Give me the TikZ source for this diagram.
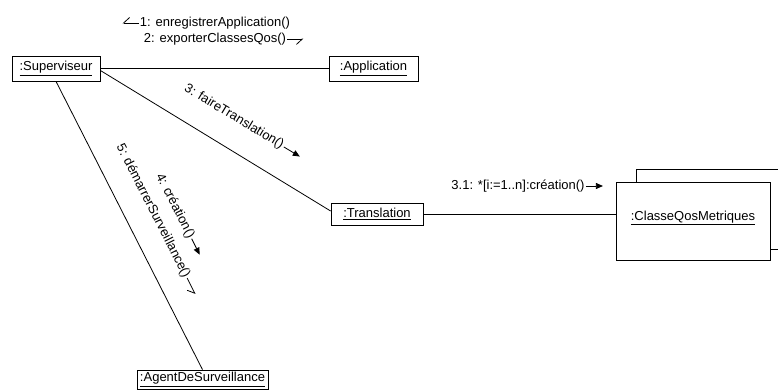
\documentclass[tikz,border=0pt]{standalone}
\usepackage{fontspec}
\setmainfont{Liberation Sans}
\usetikzlibrary{positioning,arrows.meta}

\begin{document}
\begin{tikzpicture}[
    x=1pt, y=-1pt,
    line width=0.8pt,
    every node/.style={font=\fontsize{13}{15}\selectfont, inner sep=1pt},
    obj/.style={draw, fill=white, minimum height=25pt, inner sep=0pt},
    sync/.style={-{Triangle[length=7pt,width=6pt]}},
    async/.style={-{Straight Barb[harpoon,swap,length=6pt,width=11pt]}}
]
\useasboundingbox (0,0) rectangle (778,390);
\clip (0,0) rectangle (778,390);

\node[obj, minimum width=88pt] (sup) at (56,68.5) {\underline{:Superviseur}};
\node[obj, minimum width=89pt] (app) at (373.5,68.5) {\underline{:Application}};
\node[obj, minimum width=92pt, minimum height=22pt] (trans) at (377,214) {\underline{:Translation}};
\node[obj, minimum width=131pt, minimum height=19pt] (agent) at (202.5,379.5) {\underline{:AgentDeSurveillance}};
\node[obj, minimum width=154pt, text height=38pt, text depth=40pt] (cqm) at (693,221) {\underline{:ClasseQosMetriques}};
% second object behind
\draw ([xshift=21pt]cqm.north west) -- ++(0,-12) -- ++(150,0);
\draw ([yshift=11pt]cqm.south east) -- ++(30,0);

\draw (sup.east) -- (app.west);
\draw ([yshift=-2pt]sup.east) -- ([yshift=3pt]trans.west);
\draw (sup.south) -- (agent.north);
\draw (trans.east) -- (trans.east -| cqm.west);

\node (m1) at (215,23) {1: enregistrerApplication()};
\node[below=1pt of m1] (m2) {2: exporterClassesQos()};
\draw[async] (m1.west) -- ++(-16,0);
\draw[async] (m2.east) -- ++(16,0);

\node[rotate=-31] (m3) at (234,117) {3: faireTranslation()};
\draw[sync] (m3.east) -- ++(16,9.6);

\node[rotate=-63] (m4) at (175,206) {4: création()};
\draw[sync] (m4.east) -- ++(8,16);
\node[rotate=-63] (m5) at (153,211) {5: démarrerSurveillance()};
\draw[async] (m5.east) -- ++(8,16);

\node (m31) at (518,186) {3.1: *[i:=1..n]:création()};
\draw[sync] (m31.east) -- ++(17,0);
\end{tikzpicture}
\end{document}
